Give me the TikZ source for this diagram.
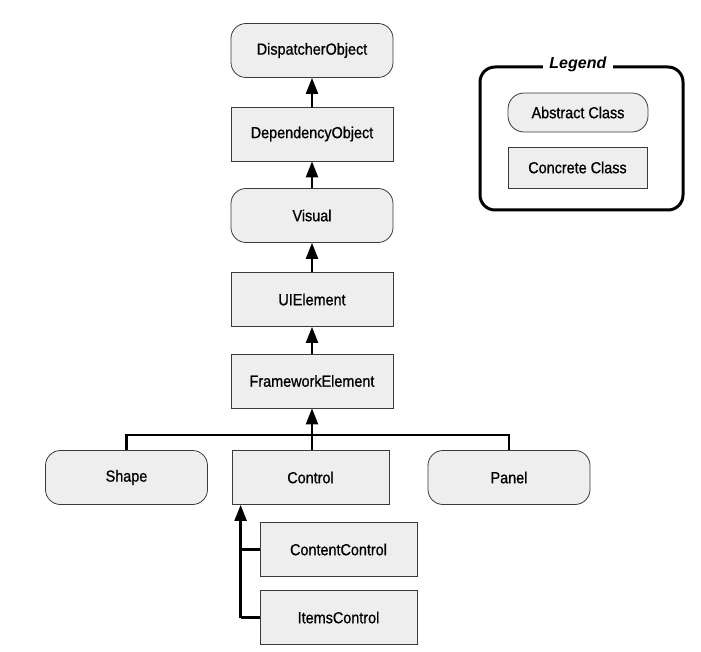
\documentclass[tikz,border=0pt]{standalone}
\usepackage{fontspec}
\setmainfont{Liberation Sans}
\newfontfamily\boxfont{Liberation Sans}[FakeStretch=0.9,FakeBold=0.8]
\usepackage{tikz}
\usetikzlibrary{arrows.meta}
\definecolor{boxfill}{HTML}{EEEEEE}
\definecolor{boxline}{HTML}{3A3A3A}

\begin{document}
\begin{tikzpicture}[x=1pt,y=-1pt,font=\boxfont\fontsize{16}{19}\selectfont]
    %
    % `abstract' is for abstract classes (rounded boxes).
    % `concrete' is for concrete classes (square boxes).
    % `inherit' is the arrow from a class to its base class.
    \tikzstyle{concrete} = [draw=boxline,fill=boxfill,line width=0.8pt,minimum width=162pt,minimum height=54pt,inner sep=0pt]
    \tikzstyle{abstract} = [concrete,rounded corners=15pt]
    \tikzstyle{inherit} = [line width=2.4pt,-{Triangle[length=16pt,width=12pt]}]
    \tikzstyle{branch} = [line width=2.4pt]
    \tikzstyle{legendbox} = [draw=black,line width=3pt,rounded corners=15pt]
    %
    \useasboundingbox (0,0) rectangle (701,652);
    %
    % Main chain
    \node[abstract] (disp) at (312,50.5) {DispatcherObject};
    \node[concrete] (dep) at (312,134) {DependencyObject} edge [inherit] (disp);
    \node[abstract] (visual) at (312,215.5) {Visual} edge [inherit] (dep);
    \node[concrete] (uie) at (312,299.5) {UIElement} edge [inherit] (visual);
    \node[concrete] (fwe) at (312,381) {FrameworkElement} edge [inherit] (uie);
    %
    % Row of subclasses
    \node[abstract] (shape) at (126.5,477.5) {Shape};
    \node[concrete,minimum width=157pt] (control) at (310.5,477.5) {Control};
    \node[abstract] (panel) at (509,477.5) {Panel};
    \coordinate (bus) at (312,435);
    \draw[inherit] (fwe.south |- control.north) -- (fwe.south);
    \draw[branch] (shape.north) |- (bus) -| (panel.north);
    %
    % Subclasses of Control
    \node[concrete,minimum width=157pt] (content) at (338.5,549.5) {ContentControl};
    \node[concrete,minimum width=157pt] (items) at (338.5,617.5) {ItemsControl};
    \coordinate (ctrlfoot) at ([xshift=9pt]control.south west);
    \draw[inherit] (ctrlfoot |- items.west) -- (ctrlfoot);
    \draw[branch] (items.west) -- (ctrlfoot |- items.west);
    \draw[branch] (content.west) -- (ctrlfoot |- content.west);
    %
    % Legend
    \draw[legendbox] (480,67) rectangle (683,210);
    \node[fill=white,inner xsep=6pt,inner ysep=2pt,font=\rmfamily\fontsize{16}{19}\selectfont] (legend) at (578,64) {\textbf{\textit{Legend}}};
    \node[abstract,minimum width=140pt,minimum height=39pt,rounded corners=16pt] (abs) at (578,112.5) {Abstract Class};
    \node[concrete,minimum width=139pt,minimum height=41pt] (con) at (577.5,167.5) {Concrete Class};
    %
\end{tikzpicture}
\end{document}
